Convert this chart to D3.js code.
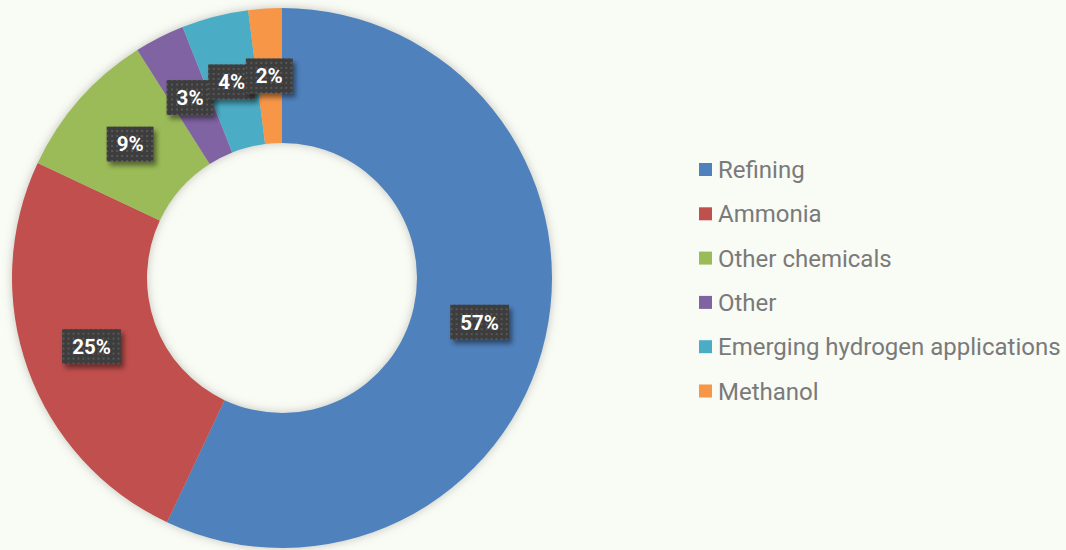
<!DOCTYPE html>
<html>
<head>
<meta charset="utf-8">
<script src="https://cdn.jsdelivr.net/npm/d3@7"></script>
<style>
  html, body { margin: 0; padding: 0; background: #f9fbf5; }
  svg { display: block; }
</style>
</head>
<body>
<svg id="chart" width="1066" height="550"></svg>
<script>
// Hydrogen demand by end use (share, %)
const categories = ["Refining", "Ammonia", "Other chemicals", "Other", "Emerging hydrogen applications", "Methanol"];
const shares = [57, 25, 9, 3, 4, 2];
const labels = ["57%", "25%", "9%", "3%", "4%", "2%"];
const colors = ["#4f81bd", "#c0504d", "#9bbb59", "#8064a2", "#4bacc6", "#f79646"];

const W = 1066, H = 550;
const cx = 282, cy = 278, outerR = 270, innerR = 135;

const svg = d3.select("#chart");
const defs = svg.append("defs");

// soft glow around the ring
const glow = defs.append("filter").attr("id", "ringShadow")
  .attr("x", "-20%").attr("y", "-20%").attr("width", "140%").attr("height", "140%");
glow.append("feDropShadow").attr("dx", 0).attr("dy", 0)
  .attr("stdDeviation", 5).attr("flood-color", "#7a8075").attr("flood-opacity", 0.45);

// drop shadow for the value boxes
const boxShadow = defs.append("filter").attr("id", "boxShadow")
  .attr("x", "-30%").attr("y", "-30%").attr("width", "160%").attr("height", "180%");
boxShadow.append("feDropShadow").attr("dx", 3).attr("dy", 4)
  .attr("stdDeviation", 2.5).attr("flood-color", "#000").attr("flood-opacity", 0.45);

// dotted fill for the value boxes
const pat = defs.append("pattern").attr("id", "dots")
  .attr("patternUnits", "userSpaceOnUse").attr("width", 5).attr("height", 5);
pat.append("rect").attr("width", 5).attr("height", 5).attr("fill", "#3c3c3c");
pat.append("rect").attr("x", 1).attr("y", 1).attr("width", 2).attr("height", 2).attr("fill", "#585858");

const pie = d3.pie().sort(null).value(d => d)(shares);
const arc = d3.arc().innerRadius(innerR).outerRadius(outerR);
const labelArc = d3.arc().innerRadius((innerR + outerR) / 2).outerRadius((innerR + outerR) / 2);

const ring = svg.append("g")
  .attr("transform", `translate(${cx},${cy})`)
  .attr("filter", "url(#ringShadow)");

ring.selectAll("path")
  .data(pie)
  .join("path")
  .attr("d", arc)
  .attr("fill", (d, i) => colors[i]);

// value labels, drawn in data order so later boxes sit on top
const lg = svg.append("g").attr("transform", `translate(${cx},${cy})`);
pie.forEach((d, i) => {
  const [x, y] = labelArc.centroid(d);
  const g = lg.append("g").attr("transform", `translate(${x},${y})`);
  const t = g.append("text")
    .attr("text-anchor", "middle")
    .attr("dy", "0.36em")
    .attr("font-family", "Roboto, sans-serif")
    .attr("font-weight", "bold")
    .attr("font-size", 20.5)
    .attr("fill", "#ffffff")
    .text(labels[i]);
  const w = t.node().getComputedTextLength();
  const bw = w + 20, bh = 35;
  g.insert("rect", "text")
    .attr("x", -bw / 2).attr("y", -bh / 2)
    .attr("width", bw).attr("height", bh)
    .attr("fill", "url(#dots)")
    .attr("filter", "url(#boxShadow)");
});

// legend
const legend = svg.append("g").attr("transform", "translate(699,0)");
const rowY = d3.scalePoint().domain(categories).range([169.5, 391]);
const rows = legend.selectAll("g")
  .data(categories)
  .join("g")
  .attr("transform", d => `translate(0,${rowY(d)})`);
rows.append("rect")
  .attr("x", 0).attr("y", -6.5)
  .attr("width", 13).attr("height", 13)
  .attr("fill", (d, i) => colors[i]);
rows.append("text")
  .attr("x", 19)
  .attr("dy", "0.36em")
  .attr("font-family", "Roboto, sans-serif")
  .attr("font-size", 24)
  .attr("fill", "#7a7a7a")
  .text(d => d);
</script>
</body>
</html>
